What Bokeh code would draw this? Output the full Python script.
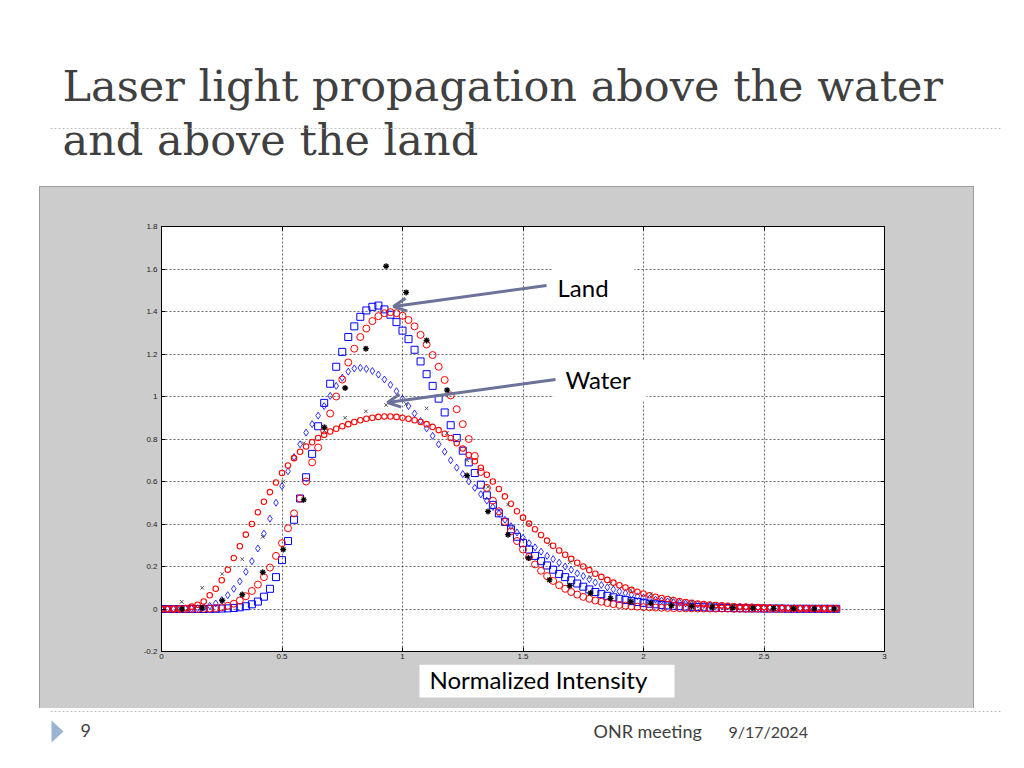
from bokeh.plotting import figure
from bokeh.layouts import column, row
from bokeh.models import (FixedTicker, LinearAxis, Label, BoxAnnotation, Arrow,
                          OpenHead, Range1d, Spacer)
from bokeh.core.properties import value
from bokeh.embed import file_html
from bokeh.resources import INLINE

# ---------------- data ----------------
x_ticks = [0, 0.5, 1, 1.5, 2, 2.5, 3]
x_tick_labels = ["0", "0.5", "1", "1.5", "2", "2.5", "3"]
y_ticks = [-0.2, 0, 0.2, 0.4, 0.6, 0.8, 1, 1.2, 1.4, 1.6, 1.8]
y_tick_labels = ["-0.2", "0", "0.2", "0.4", "0.6", "0.8", "1", "1.2", "1.4", "1.6", "1.8"]

# sample positions of the fitted curves (step 0.025, 0 .. 2.8)
fit_x = [round(0.025 * i, 3) for i in range(113)]

# land fit, blue squares
land_fit_blue = [
    0, 0, 0, 0, 0, 0, 0, 0, 0.001, 0.001,
    0.002, 0.003, 0.005, 0.008, 0.013, 0.022, 0.035, 0.058, 0.095, 0.15,
    0.23, 0.32, 0.42, 0.52, 0.62, 0.73, 0.86, 0.97, 1.06, 1.14,
    1.21, 1.28, 1.33, 1.375, 1.405, 1.422, 1.428, 1.41, 1.385, 1.35,
    1.31, 1.27, 1.22, 1.165, 1.105, 1.05, 0.99, 0.925, 0.865, 0.805,
    0.745, 0.69, 0.64, 0.585, 0.535, 0.49, 0.45, 0.41, 0.375, 0.34,
    0.31, 0.28, 0.25, 0.225, 0.205, 0.185, 0.165, 0.15, 0.135, 0.12,
    0.105, 0.092, 0.08, 0.07, 0.062, 0.055, 0.048, 0.042, 0.037, 0.033,
    0.029, 0.025, 0.022, 0.019, 0.017, 0.015, 0.013, 0.011, 0.01, 0.009,
    0.008, 0.007, 0.006, 0.005, 0.005, 0.004, 0.004, 0.003, 0.003, 0.003,
    0.002, 0.002, 0.002, 0.002, 0.001, 0.001, 0.001, 0.001, 0.001, 0.001,
    0.001, 0.001, 0.001]

# land fit, red circles
land_fit_red = [
    0, 0, 0, 0, 0, 0, 0, 0.001, 0.002, 0.004,
    0.008, 0.015, 0.025, 0.04, 0.06, 0.085, 0.115, 0.15, 0.195, 0.25,
    0.31, 0.38, 0.45, 0.52, 0.60, 0.69, 0.76, 0.84, 0.92, 1.00,
    1.08, 1.16, 1.225, 1.28, 1.32, 1.355, 1.378, 1.392, 1.397, 1.392,
    1.38, 1.36, 1.33, 1.29, 1.245, 1.195, 1.14, 1.078, 1.005, 0.94,
    0.87, 0.8, 0.72, 0.645, 0.57, 0.51, 0.46, 0.41, 0.365, 0.32,
    0.28, 0.245, 0.21, 0.18, 0.155, 0.132, 0.112, 0.095, 0.08, 0.068,
    0.057, 0.048, 0.04, 0.034, 0.028, 0.023, 0.019, 0.016, 0.013, 0.011,
    0.009, 0.008, 0.007, 0.006, 0.005, 0.004, 0.004, 0.003, 0.003, 0.002,
    0.002, 0.002, 0.002, 0.002, 0.002, 0.001, 0.001, 0.001, 0.001, 0.001,
    0.001, 0.001, 0.001, 0.001, 0.001, 0.001, 0.001, 0.001, 0.001, 0.001,
    0.001, 0.001, 0.001]

# water fit, blue diamonds
water_fit_blue = [
    0, 0, 0, 0, 0.001, 0.002, 0.004, 0.008, 0.015, 0.026,
    0.042, 0.065, 0.095, 0.13, 0.175, 0.225, 0.285, 0.355, 0.425, 0.50,
    0.578, 0.648, 0.715, 0.775, 0.83, 0.87, 0.91, 0.955, 1.003, 1.05,
    1.088, 1.117, 1.132, 1.135, 1.13, 1.12, 1.103, 1.08, 1.055, 1.025,
    0.99, 0.955, 0.92, 0.885, 0.85, 0.815, 0.775, 0.74, 0.70, 0.665,
    0.635, 0.60, 0.57, 0.54, 0.51, 0.48, 0.45, 0.42, 0.39, 0.36,
    0.335, 0.31, 0.29, 0.27, 0.25, 0.235, 0.218, 0.2, 0.185, 0.168,
    0.155, 0.14, 0.125, 0.113, 0.102, 0.092, 0.083, 0.075, 0.067, 0.06,
    0.054, 0.049, 0.044, 0.04, 0.036, 0.032, 0.029, 0.026, 0.023, 0.021,
    0.019, 0.017, 0.015, 0.013, 0.012, 0.011, 0.01, 0.009, 0.008, 0.007,
    0.006, 0.006, 0.005, 0.005, 0.004, 0.004, 0.003, 0.003, 0.003, 0.002,
    0.002, 0.002, 0.002]

# water fit, small red circles
water_fit_red = [
    0, 0, 0.001, 0.002, 0.005, 0.011, 0.02, 0.035, 0.065, 0.095,
    0.135, 0.185, 0.24, 0.295, 0.35, 0.40, 0.455, 0.505, 0.55, 0.595,
    0.64, 0.675, 0.71, 0.74, 0.765, 0.785, 0.805, 0.82, 0.835, 0.848,
    0.86, 0.87, 0.88, 0.888, 0.895, 0.90, 0.904, 0.906, 0.906, 0.904,
    0.90, 0.895, 0.888, 0.88, 0.87, 0.857, 0.842, 0.825, 0.805, 0.78,
    0.755, 0.725, 0.695, 0.665, 0.632, 0.60, 0.565, 0.53, 0.495, 0.46,
    0.43, 0.402, 0.375, 0.348, 0.322, 0.298, 0.275, 0.255, 0.236, 0.218,
    0.2, 0.183, 0.166, 0.151, 0.137, 0.124, 0.112, 0.101, 0.09, 0.081,
    0.073, 0.065, 0.058, 0.052, 0.047, 0.042, 0.037, 0.033, 0.029, 0.026,
    0.023, 0.021, 0.019, 0.017, 0.015, 0.013, 0.012, 0.011, 0.01, 0.009,
    0.008, 0.007, 0.006, 0.006, 0.005, 0.005, 0.004, 0.004, 0.003, 0.003,
    0.003, 0.002, 0.002]

# measured points
data_x = [0.084, 0.169, 0.252, 0.335, 0.42, 0.505, 0.59, 0.676, 0.762, 0.848,
          0.932, 1.015, 1.10, 1.185, 1.268, 1.355, 1.438, 1.523, 1.61, 1.694,
          1.78, 1.863, 1.947, 2.03, 2.116, 2.2, 2.285, 2.37, 2.454, 2.54,
          2.623, 2.708, 2.792]
land_y = [0.0, 0.005, 0.04, 0.068, 0.173, 0.28, 0.514, 0.855, 1.04, 1.225,
          1.613, 1.49, 1.264, 1.03, 0.628, 0.459, 0.35, 0.24, 0.137, 0.11,
          0.075, 0.05, 0.035, 0.028, 0.016, 0.012, 0.009, 0.006, 0.004, 0.003,
          0.002, 0.001, 0.001]
water_y = [0.034, 0.10, 0.165, 0.234, 0.34, 0.60, 0.78, 0.84, 0.90, 0.93,
           0.96, 0.965, 0.944, 0.828, 0.70, 0.575, 0.492, 0.40, 0.304, 0.22,
           0.15, 0.12, 0.09, 0.07, 0.05, 0.035, 0.025, 0.018, 0.012, 0.008,
           0.005, 0.003, 0.002]

title_lines = ["Laser light propagation above the water", "and above the  land"]
footer_texts = ["9", "ONR meeting"]
footer_date = "9/17/2024"
callout_texts = ["Land", "Water", "Normalized Intensity"]

# ---------------- page geometry (page pixels) ----------------
PAGE_W, PAGE_H = 1016, 760
GX0, GX1, GY0, GY1 = 40, 973, 187, 708      # grey picture box
CHART_BOTTOM = 664                           # chart canvas ends here, strip below
FL, FR, FT, FB = 161, 884, 226, 651          # plot frame
X0, X1, Y0, Y1 = 0, 3, -0.2, 1.8
GREY = "#cccccc"
TXT = "#404040"


def base(py, size):
    # place the alphabetic baseline of text of the given px size at page row py
    return py - 0.37 * size


def dx(px):
    return X0 + (px - FL) * (X1 - X0) / (FR - FL)


def dy(py):
    return Y1 - (py - FT) * (Y1 - Y0) / (FB - FT)


def deco_fig(x0, x1, y0, y1, bg="white", pad_l=0, pad_r=0):
    f = figure(width=x1 - x0, height=y1 - y0,
               x_range=Range1d(x0 + pad_l, x1 - pad_r), y_range=Range1d(y1, y0),
               output_backend="svg", toolbar_location=None,
               x_axis_type=None, y_axis_type=None, min_border=0,
               min_border_left=pad_l, min_border_right=pad_r, title=None)
    f.outline_line_color = None
    f.background_fill_color = bg
    f.border_fill_color = bg
    f.styles = {"background-color": bg}
    return f


# ---------------- chart ----------------
CW, CH = GX1 - GX0, CHART_BOTTOM - GY0
p = figure(width=CW, height=CH, x_range=(X0, X1), y_range=(Y0, Y1),
           output_backend="svg", toolbar_location=None, title=None,
           min_border_left=FL - GX0, min_border_right=GX1 - FR,
           min_border_top=FT - GY0, min_border_bottom=CHART_BOTTOM - FB)
p.border_fill_color = GREY
p.background_fill_color = "white"
p.outline_line_color = "black"
p.outline_line_width = 1
p.styles = {"background-color": GREY}

for ax, ticks, labels in ((p.xaxis[0], x_ticks, x_tick_labels),
                          (p.yaxis[0], y_ticks, y_tick_labels)):
    ax.ticker = FixedTicker(ticks=ticks)
    ax.major_label_overrides = dict(zip(ticks, labels))
    ax.major_tick_in = 4
    ax.major_tick_out = 0
    ax.minor_tick_line_color = None
    ax.axis_line_color = "black"
    ax.major_tick_line_color = "black"
    ax.major_label_text_font = "Liberation Sans"
    ax.major_label_text_font_size = "8px"
    ax.major_label_text_color = "#222222"
p.xaxis.major_label_standoff = 2
p.yaxis.major_label_standoff = 4

top_ax = LinearAxis(ticker=FixedTicker(ticks=x_ticks),
                    major_label_overrides={t: "" for t in x_ticks},
                    major_tick_in=4, major_tick_out=0, minor_tick_line_color=None,
                    major_label_text_font_size="8px")
right_ax = LinearAxis(ticker=FixedTicker(ticks=y_ticks),
                      major_label_overrides={t: "" for t in y_ticks},
                      major_tick_in=4, major_tick_out=0, minor_tick_line_color=None,
                      major_label_text_font_size="8px")
p.add_layout(top_ax, "above")
p.add_layout(right_ax, "right")

p.xgrid.ticker = FixedTicker(ticks=x_ticks)
p.ygrid.ticker = FixedTicker(ticks=y_ticks)
for g in (p.xgrid[0], p.ygrid[0]):
    g.grid_line_color = "#333333"
    g.grid_line_dash = "2 2"
    g.grid_line_alpha = 0.75
    g.grid_line_width = 1

# fitted curves
p.scatter(fit_x, land_fit_blue, marker="square", size=7, fill_color=None,
          line_color="#0000ff", line_width=1)
p.scatter(fit_x, water_fit_blue, marker="diamond", size=7, fill_color=None,
          line_color="#0000ff", line_width=0.8)
p.scatter(fit_x, land_fit_red, marker="circle", size=7, fill_color=None,
          line_color="#ff0000", line_width=1)
p.scatter(fit_x, water_fit_red, marker="circle", size=5.5, fill_color=None,
          line_color="#ff0000", line_width=1.1)
# measured points
p.scatter(data_x, water_y, marker="x", size=5, line_color="#555555", line_width=1)
p.scatter(data_x, land_y, marker="asterisk", size=6, line_color="black", line_width=1.3)

# callouts inside the plot frame
ARROW = "#6c7399"
for (l, t, r, b) in ((552, 262, 634, 307), (553, 360, 646, 401)):
    p.add_layout(BoxAnnotation(left=dx(l), right=dx(r), top=dy(t), bottom=dy(b),
                               fill_color="white", fill_alpha=1, line_color=None,
                               level="annotation"))
for (px, py), s in zip(((557, 296), (565, 388)), callout_texts[:2]):
    p.add_layout(Label(x=dx(px), y=dy(base(py, 24)), text=s, text_font="Lato",
                       text_font_size="24px", text_color="black",
                       text_baseline="alphabetic", level="overlay"))
for (x1, y1, x2, y2) in ((546, 285, 393, 306), (555, 379, 387, 402)):
    p.add_layout(Arrow(x_start=dx(x1), y_start=dy(y1), x_end=dx(x2), y_end=dy(y2),
                       line_color=ARROW, line_width=3, level="overlay",
                       end=OpenHead(size=13, line_color=ARROW, line_width=3)))

# ---------------- strip under the chart (axis caption box) ----------------
# its frame is aligned with the chart frame (page columns FL..FR)
strip = deco_fig(GX0, GX1, CHART_BOTTOM, GY1, bg=GREY,
                 pad_l=FL - GX0, pad_r=GX1 - FR)
strip.quad(left=419, right=674, top=CHART_BOTTOM, bottom=697,
           fill_color="white", line_color=None)
strip.text(x=[429], y=[base(688, 24)], text=[callout_texts[2]], text_font=value("Lato"),
           text_font_size="24px", text_color="black", text_baseline="alphabetic")

# ---------------- slide title ----------------
head = deco_fig(0, PAGE_W, 0, GY0)
head.text(x=[62, 62], y=[base(101, 43), base(155, 43)], text=title_lines,
          text_font=value("DejaVu Serif"), text_font_size="43px", text_color=TXT,
          text_baseline="alphabetic")
head.line([50, 1000], [128, 128], line_color="#c0c0c0", line_dash="2 2", line_width=1)

# ---------------- slide footer ----------------
foot = deco_fig(0, PAGE_W, GY1, PAGE_H)
foot.line([50, 1000], [711, 711], line_color="#c0c0c0", line_dash="2 2", line_width=1)
foot.patch([51, 63, 51], [720, 731, 742], fill_color="#9ab4d2", line_color=None)
foot.text(x=[80, 593], y=[base(737, 18)] * 2, text=footer_texts,
          text_font=value("Lato"), text_font_size="18px", text_color=TXT,
          text_baseline="alphabetic")
foot.text(x=[728], y=[base(737, 16)], text=[footer_date],
          text_font=value("Lato"), text_font_size="16px", text_color=TXT,
          text_baseline="alphabetic")

chart_col = column(p, strip, spacing=0,
                   styles={"outline": "1px solid #9c9c9c", "background-color": GREY})
middle = row(Spacer(width=GX0, height=GY1 - GY0), chart_col,
             Spacer(width=PAGE_W - GX1, height=GY1 - GY0), spacing=0)
layout = column(head, middle, foot, spacing=0)

open("out.html", "w").write(file_html(layout, INLINE))
